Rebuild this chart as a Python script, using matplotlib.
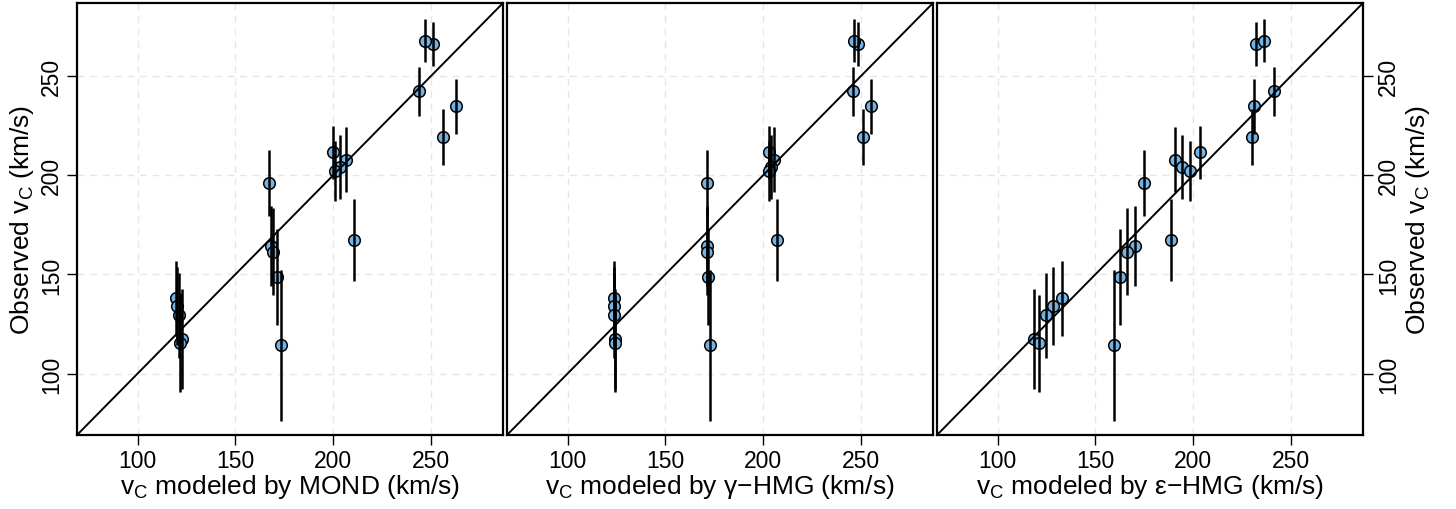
import matplotlib
matplotlib.use("Agg")
import matplotlib.pyplot as plt

plt.rcParams['font.family'] = ['Liberation Sans', 'DejaVu Sans']
plt.rcParams['mathtext.fontset'] = 'custom'
plt.rcParams['mathtext.rm'] = 'Liberation Sans'
plt.rcParams['mathtext.it'] = 'Liberation Sans'

# Observed circular velocities (km/s) and their errors
v_obs = [266.3, 268.0, 242.4, 234.9, 219.3, 211.7, 208.0, 204.3, 202.3, 196.1,
         167.3, 164.5, 161.5, 148.9, 138.0, 134.3, 129.5, 117.6, 115.3, 114.3]
v_err = [11.2, 10.7, 12.2, 13.8, 14.1, 13.4, 16.5, 16.3, 15.3, 16.5,
         20.8, 20.2, 21.8, 24.2, 18.8, 19.7, 21.4, 25.2, 24.4, 38.0]

# Modeled velocities
v_mond = [251.1, 246.9, 244.0, 263.2, 256.1, 200.0, 206.8, 203.8, 201.2, 167.1,
          210.6, 168.1, 169.5, 171.2, 119.9, 120.4, 121.0, 122.8, 121.5, 173.6]
v_gamma = [248.8, 246.8, 246.3, 255.3, 251.0, 203.3, 205.8, 204.3, 203.1, 171.1,
           207.0, 171.1, 171.4, 171.9, 123.8, 123.8, 123.8, 124.3, 124.1, 172.7]
v_eps = [232.4, 236.4, 241.3, 231.2, 230.2, 203.5, 191.0, 194.6, 198.7, 175.0,
         188.8, 170.2, 166.3, 162.6, 133.1, 128.5, 124.9, 118.6, 121.3, 159.7]

models = [v_mond, v_gamma, v_eps]
xlabels = ['v$_\\mathrm{C}$ modeled by MOND (km/s)',
           'v$_\\mathrm{C}$ modeled by γ−HMG (km/s)',
           'v$_\\mathrm{C}$ modeled by ε−HMG (km/s)']
ticks = [100, 150, 200, 250]
lims = (69, 287)

fig = plt.figure(figsize=(14.56, 5.10), dpi=100)
W, H = 1456, 510
lefts = [77, 507, 937]
for i, (vm, xl) in enumerate(zip(models, xlabels)):
    ax = fig.add_axes([lefts[i] / W, (H - 436) / H, 426 / W, 432 / H])
    ax.set_xlim(lims)
    ax.set_ylim(lims)
    for t in ticks:
        ax.axvline(t, color='#e6e6e6', lw=1, ls=(0, (5, 4)), zorder=0)
        ax.axhline(t, color='#e6e6e6', lw=1, ls=(0, (5, 4)), zorder=0)
    ax.scatter(vm, v_obs, s=70, facecolor='#74B3E6', edgecolor='black',
               linewidth=1.1, zorder=2)
    ax.errorbar(vm, v_obs, yerr=v_err, fmt='none', ecolor='black',
                elinewidth=1.8, capsize=0, zorder=3)
    ax.plot(lims, lims, color='black', lw=1.4, zorder=3)
    for s in ax.spines.values():
        s.set_linewidth(1.6)
    ax.set_xticks(ticks)
    ax.tick_params(axis='x', labelsize=16.5, length=7, width=1, pad=3)
    ax.set_xlabel(xl, fontsize=19, labelpad=0)
    ax.set_yticks(ticks)
    if i == 0:
        ax.tick_params(axis='y', labelsize=16.5, length=7, width=1, pad=3)
        ax.set_yticklabels([str(t) for t in ticks], rotation=90, va='center')
        ax.set_ylabel('Observed v$_\\mathrm{C}$ (km/s)', fontsize=19, labelpad=3)
    elif i == 1:
        ax.tick_params(axis='y', left=False, labelleft=False)
    else:
        ax.tick_params(axis='y', left=False, labelleft=False, right=True,
                       labelright=True, labelsize=16.5, length=7, width=1, pad=3)
        ax.set_yticklabels([str(t) for t in ticks], rotation=90, va='center')
        ax.yaxis.set_label_position('right')
        ax.set_ylabel('Observed v$_\\mathrm{C}$ (km/s)', fontsize=19,
                      labelpad=3, rotation=90)

fig.savefig('out.png', dpi=100)
